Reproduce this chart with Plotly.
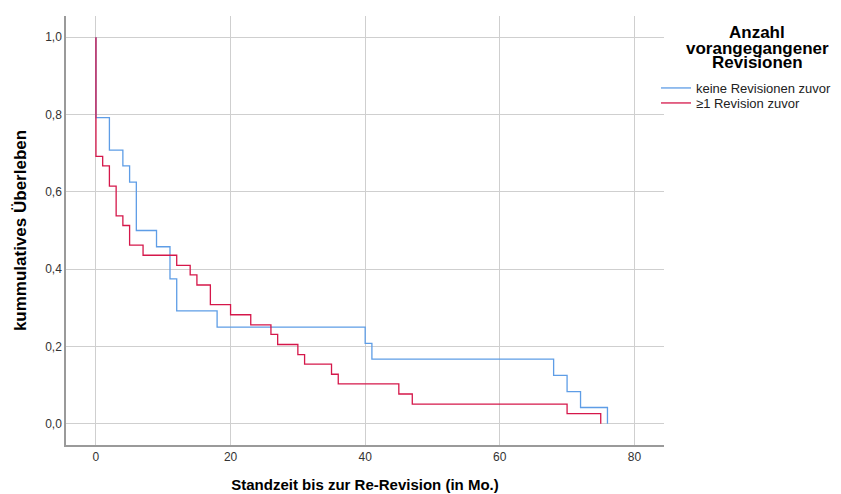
import plotly.graph_objects as go

# Kaplan-Meier step data
blue_name = "keine Revisionen zuvor"
blue_time = [0, 0, 2, 4, 5, 6, 9, 11, 12, 18, 40, 41, 68, 70, 72, 76]
blue_surv = [1.0, 0.792, 0.708, 0.667, 0.625, 0.5, 0.458, 0.375, 0.292, 0.25,
             0.208, 0.167, 0.125, 0.083, 0.042, 0.0]

red_name = "≥1 Revision zuvor"
red_time = [0, 0, 1, 2, 3, 4, 5, 7, 12, 14, 15, 17, 20, 23, 26, 27, 30, 31,
            35, 36, 45, 47, 70, 75]
red_surv = [1.0, 0.692, 0.667, 0.615, 0.538, 0.513, 0.462, 0.436, 0.410,
            0.385, 0.359, 0.308, 0.282, 0.256, 0.231, 0.205, 0.179, 0.154,
            0.128, 0.103, 0.077, 0.051, 0.026, 0.0]

x_ticks = [0, 20, 40, 60, 80]
y_ticks = [0.0, 0.2, 0.4, 0.6, 0.8, 1.0]

x_title = "Standzeit bis zur Re-Revision (in Mo.)"
y_title = "kummulatives Überleben"
legend_title_lines = ["Anzahl", "vorangegangener", "Revisionen"]

FONT = "Liberation Sans, Arial, sans-serif"

# the page body has an 8px default margin; size the figure to fill the window
BODY = 8
W, H = 841 - BODY, 494 - BODY
# plot area in page pixels: x 66..664, y 16..445
PL, PR, PT, PB = 66, 664, 16, 445
ML, MT = PL - BODY, PT - BODY
MR, MB = W - (PR - BODY), H - (PB - BODY)
PW, PH = PR - PL, PB - PT


def px_x(px):
    return (px - PL) / PW


def px_y(py):
    return 1 - (py - PT) / PH


fig = go.Figure()
fig.add_trace(go.Scatter(x=blue_time, y=blue_surv, name=blue_name, mode="lines",
                         legend="legend",
                         line=dict(shape="hv", color="#5E9DE6", width=1.3)))
fig.add_trace(go.Scatter(x=red_time, y=red_surv, name=red_name, mode="lines",
                         legend="legend2",
                         line=dict(shape="hv", color="#D5174A", width=1.3)))

leg_common = dict(xanchor="left", yanchor="middle", itemwidth=30,
                  bgcolor="rgba(0,0,0,0)",
                  font=dict(family=FONT, size=13, color="#222222"))

title_y = [32.5, 48, 62.5]
annotations = [
    dict(text=t, xref="paper", yref="paper", x=px_x(757), y=px_y(py),
         xanchor="center", yanchor="middle", showarrow=False,
         font=dict(family=FONT, size=17, color="#000000", weight="bold"))
    for t, py in zip(legend_title_lines, title_y)
]

fig.update_layout(
    width=W, height=H,
    margin=dict(l=ML, r=MR, t=MT, b=MB, autoexpand=False),
    paper_bgcolor="white", plot_bgcolor="white",
    separators=",.",
    font=dict(family=FONT, size=12, color="#333333"),
    showlegend=True,
    legend=dict(x=px_x(656), y=px_y(88), **leg_common),
    legend2=dict(x=px_x(656), y=px_y(103), **leg_common),
    annotations=annotations,
    xaxis=dict(
        range=[-4.45, 84.4], tickvals=x_ticks, ticks="", automargin=False,
        showgrid=True, gridcolor="#CFCFCF", gridwidth=1,
        zeroline=False, showline=True, linecolor="#9A9A9A", linewidth=1.5,
        tickfont=dict(family=FONT, size=12, color="#333333"),
        title=dict(text=x_title, standoff=16,
                   font=dict(family=FONT, size=15, color="#000000", weight="bold")),
    ),
    yaxis=dict(
        range=[-0.055, 1.055], tickvals=y_ticks, tickformat=".1f", ticks="",
        automargin=False,
        showgrid=True, gridcolor="#CFCFCF", gridwidth=1,
        zeroline=False, showline=True, linecolor="#9A9A9A", linewidth=1.5,
        tickfont=dict(family=FONT, size=12, color="#333333"),
        title=dict(text=y_title, standoff=14,
                   font=dict(family=FONT, size=17, color="#000000", weight="bold")),
    ),
)

fig.write_html("out.html")
